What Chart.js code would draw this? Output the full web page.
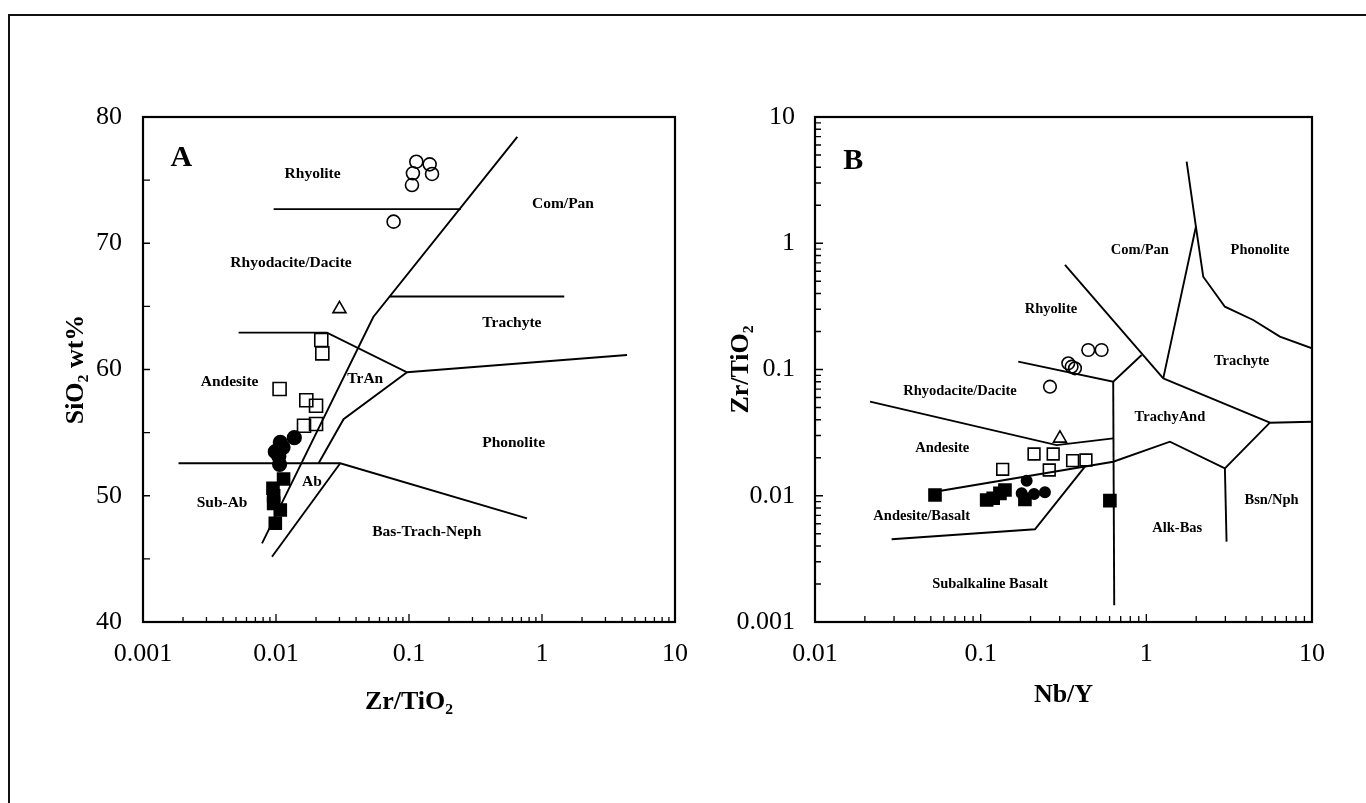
<!DOCTYPE html>
<html><head><meta charset="utf-8">
<script src="https://cdn.jsdelivr.net/npm/chart.js@4/dist/chart.umd.min.js"></script>
<style>
html,body{margin:0;padding:0;background:#fff;overflow:hidden;width:1366px;height:803px;}
#frame{position:absolute;left:8px;top:14px;width:1420px;height:900px;border:2px solid #111;box-sizing:border-box;}
#wa{position:absolute;left:0;top:0;width:720px;height:803px;}
#wb{position:absolute;left:720px;top:0;width:646px;height:803px;}
</style></head><body>
<div id="frame"></div>
<div id="wa"><canvas id="ca" width="720" height="803"></canvas></div>
<div id="wb"><canvas id="cb" width="646" height="803"></canvas></div>
<script>
// ---------- Panel A data (x = Zr/TiO2, y = SiO2 wt%) ----------
const aXTicks = [0.001, 0.01, 0.1, 1, 10];
const aXTickLabels = ['0.001', '0.01', '0.1', '1', '10'];
const aYTicks = [40, 50, 60, 70, 80];
const aYTickLabels = ['40', '50', '60', '70', '80'];

const aOpenCircles = [[0.1135,76.46],[0.143,76.25],[0.107,75.54],[0.149,75.49],[0.1053,74.61],[0.0766,71.71]];
const aOpenTriangles = [[0.030,64.8]];
const aOpenSquares = [[0.0219,62.34],[0.0223,61.28],[0.01064,58.46],[0.0169,57.56],[0.0200,57.13],[0.01624,55.55],[0.0200,55.68]];
const aFilledCircles = [[0.01077,54.23],[0.00988,53.49],[0.0113,53.84],[0.01064,52.49],[0.01373,54.6],[0.0105,53.1]];
const aFilledSquares = [[0.0114,51.33],[0.00949,50.59],[0.0096,50.0],[0.0096,49.4],[0.01077,48.87],[0.00988,47.82]];

const aRhyoliteLine = [[0.0096,72.7],[0.245,72.7]];
const aComPanLine = [[0.652,78.42],[0.0539,64.16],[0.00785,46.23]];
const aAndesiteLine = [[0.00523,62.92],[0.02417,62.92],[0.0966,59.78],[4.36,61.15]];
const aTrachyteLine = [[0.0716,65.78],[1.47,65.78]];
const aTrAnLine = [[0.0966,59.78],[0.0322,56.06],[0.0209,52.57]];
const aSubAbLine = [[0.00185,52.57],[0.0304,52.57],[0.771,48.21]];
const aAbLine = [[0.0304,52.57],[0.00933,45.17]];

const aRegionTexts = ['Rhyolite','Rhyodacite/Dacite','Com/Pan','Trachyte','Andesite','TrAn','Ab','Sub-Ab','Bas-Trach-Neph','Phonolite'];
const aRegionX = [0.01884,0.01297,1.438,0.594,0.00448,0.0469,0.01866,0.00393,0.136,0.6115];
const aRegionY = [75.49,68.41,73.11,63.66,58.99,59.25,51.07,49.40,47.15,54.2];
const aLetter = 'A';
const aLetterXY = [0.00194, 76.75];

// ---------- Panel B data (x = Nb/Y, y = Zr/TiO2) ----------
const bXTicks = [0.01, 0.1, 1, 10];
const bXTickLabels = ['0.01', '0.1', '1', '10'];
const bYTicks = [0.001, 0.01, 0.1, 1, 10];
const bYTickLabels = ['0.001', '0.01', '0.1', '1', '10'];

const bOpenCircles = [[0.262,0.0731],[0.338,0.1119],[0.354,0.1052],[0.371,0.1022],[0.446,0.1427],[0.537,0.1427]];
const bOpenTriangles = [[0.301,0.0285]];
const bOpenSquares = [[0.1358,0.0162],[0.210,0.0214],[0.274,0.0214],[0.2594,0.0160],[0.359,0.0190],[0.432,0.0192]];
const bFilledCircles = [[0.1895,0.01315],[0.2443,0.01065],[0.1768,0.01045],[0.210,0.01032]];
const bFilledSquares = [[0.053,0.01014],[0.1087,0.00925],[0.119,0.00955],[0.1307,0.01045],[0.1402,0.0111],[0.185,0.00937],[0.6026,0.00914]];

const bRhyoliteLine = [[0.1686,0.1153],[0.631,0.080],[0.937,0.1303]];
const bComPanLine = [[0.3228,0.6727],[1.265,0.0851]];
const bVerticalLine = [[0.631,0.080],[0.64,0.00136]];
const bRhyodaciteLine = [[0.0215,0.0556],[0.2875,0.0252],[0.631,0.0285]];
const bAndesiteLine = [[0.053,0.01076],[0.631,0.0186],[1.388,0.0268],[2.98,0.0165],[5.57,0.0379],[10,0.0386]];
const bBasaltLine = [[0.029,0.00452],[0.2127,0.00543],[0.426,0.0170]];
const bTrachyAndLine = [[1.265,0.0851],[5.57,0.0379]];
const bBsnNphLine = [[2.98,0.0165],[3.05,0.00433]];
const bComPanTrachyteLine = [[1.751,4.43],[1.992,1.352],[1.265,0.0851]];
const bPhonoliteLine = [[1.992,1.352],[2.205,0.543],[2.98,0.3144],[4.416,0.2466],[6.4,0.182],[10,0.147]];

const bRegionTexts = ['Com/Pan','Phonolite','Rhyolite','Trachyte','TrachyAnd','Bsn/Nph','Alk-Bas','Rhyodacite/Dacite','Andesite','Andesite/Basalt','Subalkaline Basalt'];
const bRegionX = [0.914,4.85,0.2657,3.76,1.388,5.70,1.536,0.075,0.0586,0.04406,0.1138];
const bRegionY = [0.884,0.884,0.2998,0.1153,0.0415,0.00914,0.00552,0.0667,0.02377,0.00691,0.0020];
const bLetter = 'B';
const bLetterXY = [0.01703, 4.43];

// ---------- helpers ----------
const FONT = '"Liberation Serif", "Times New Roman", serif';
const pts = arr => arr.map(([x, y]) => ({x, y}));
function markerDS(data, style, radius, filled) {
  return { data: pts(data), pointStyle: style, pointRadius: radius, pointHoverRadius: radius,
    pointBackgroundColor: filled ? '#000' : 'rgba(0,0,0,0)', pointBorderColor: '#000',
    pointBorderWidth: 1.6, showLine: false, order: 0 };
}
function lineDS(data) {
  return { data: pts(data), showLine: true, borderColor: '#000', borderWidth: 1.9,
    pointRadius: 0, pointHoverRadius: 0, fill: false, tension: 0, order: 1 };
}
function logMinor(scale, majorLen, minorLen) {
  const out = [];
  const k0 = Math.floor(Math.log10(scale.min) + 1e-9), k1 = Math.ceil(Math.log10(scale.max) - 1e-9);
  for (let k = k0; k <= k1; k++) for (let m = 1; m <= 9; m++) {
    const v = m * Math.pow(10, k);
    if (v > scale.min * 1.001 && v < scale.max * 0.999) out.push([v, m === 1 ? majorLen : minorLen]);
  }
  return out;
}
function linMinor(scale, step, len) {
  const out = [];
  for (let v = scale.min + step; v < scale.max - 1e-9; v += step) out.push([v, len]);
  return out;
}
function framePlugin(xMarks, yMarks) {
  return { id: 'frameTicks', afterDatasetsDraw(chart) {
    const {ctx, chartArea: a, scales} = chart;
    ctx.save();
    ctx.strokeStyle = '#000'; ctx.lineWidth = 1.3;
    ctx.beginPath();
    xMarks(scales.x).forEach(([v, len]) => { const p = scales.x.getPixelForValue(v); ctx.moveTo(p, a.bottom); ctx.lineTo(p, a.bottom - len); });
    yMarks(scales.y).forEach(([v, len]) => { const p = scales.y.getPixelForValue(v); ctx.moveTo(a.left, p); ctx.lineTo(a.left + len, p); });
    ctx.stroke();
    ctx.lineWidth = 2.2;
    ctx.strokeRect(a.left, a.top, a.right - a.left, a.bottom - a.top);
    ctx.restore();
  }};
}
function labelsPlugin(texts, xs, ys, fontPx, letter, letterXY) {
  return { id: 'regionLabels', afterDatasetsDraw(chart) {
    const {ctx, scales} = chart;
    ctx.save();
    ctx.fillStyle = '#000'; ctx.textAlign = 'center'; ctx.textBaseline = 'middle';
    ctx.font = `bold ${fontPx}px ${FONT}`;
    texts.forEach((t, i) => ctx.fillText(t, scales.x.getPixelForValue(xs[i]), scales.y.getPixelForValue(ys[i])));
    ctx.font = `bold 30px ${FONT}`;
    ctx.fillText(letter, scales.x.getPixelForValue(letterXY[0]), scales.y.getPixelForValue(letterXY[1]));
    ctx.restore();
  }};
}
function makeScales(p) {
  return {
    x: { type: 'logarithmic', position: 'bottom', min: p.xTicks[0], max: p.xTicks[p.xTicks.length - 1],
      grid: { display: false, drawTicks: false }, border: { display: false },
      afterBuildTicks: s => { s.ticks = p.xTicks.map(v => ({value: v})); },
      afterFit: s => { s.height = p.xH; },
      ticks: { color: '#000', font: { family: FONT, size: 26 }, padding: p.xPad, autoSkip: false, maxRotation: 0, minRotation: 0,
        callback: (v, i) => p.xLabels[i] },
      title: { display: true, text: p.xTitle, color: '#000', font: { family: FONT, size: 26, weight: 'bold' },
        padding: { top: 0, bottom: p.xTitlePad } } },
    y: { type: p.yType, position: 'left', min: p.yTicks[0], max: p.yTicks[p.yTicks.length - 1],
      grid: { display: false, drawTicks: false }, border: { display: false },
      afterBuildTicks: s => { s.ticks = p.yTicks.map(v => ({value: v})); },
      afterFit: s => { s.width = p.yW; },
      ticks: { color: '#000', font: { family: FONT, size: 26 }, padding: p.yPad, autoSkip: false,
        callback: (v, i) => p.yLabels[i] },
      title: { display: true, text: p.yTitle, color: '#000', font: { family: FONT, size: 26, weight: 'bold' },
        padding: { top: p.yTitlePad, bottom: 0 } } }
  };
}
function baseOptions(scales, padRight) {
  return { responsive: false, animation: false, devicePixelRatio: 1,
    layout: { padding: { left: 0, top: 117, right: padRight, bottom: 0 } },
    plugins: { legend: { display: false }, tooltip: { enabled: false } },
    scales };
}

// ---------- Panel A chart ----------
new Chart(document.getElementById('ca'), {
  type: 'scatter',
  data: { datasets: [
    markerDS(aOpenCircles, 'circle', 6.5, false),
    markerDS(aOpenTriangles, 'triangle', 7.5, false),
    markerDS(aOpenSquares, 'rect', 9.2, false),
    markerDS(aFilledCircles, 'circle', 6.8, true),
    markerDS(aFilledSquares, 'rect', 8.5, true),
    lineDS(aRhyoliteLine), lineDS(aComPanLine), lineDS(aAndesiteLine), lineDS(aTrachyteLine),
    lineDS(aTrAnLine), lineDS(aSubAbLine), lineDS(aAbLine)
  ]},
  options: baseOptions(makeScales({
    xTicks: aXTicks, xLabels: aXTickLabels, xTitle: 'Zr/TiO\u2082', xH: 181, xPad: 17, xTitlePad: 85,
    yType: 'linear', yTicks: aYTicks, yLabels: aYTickLabels, yTitle: 'SiO\u2082 wt%', yW: 143, yPad: 21, yTitlePad: 61
  }), 45),
  plugins: [
    framePlugin(s => logMinor(s, 8, 5), s => linMinor(s, 5, 7)),
    labelsPlugin(aRegionTexts, aRegionX, aRegionY, 15.5, aLetter, aLetterXY)
  ]
});

// ---------- Panel B chart ----------
new Chart(document.getElementById('cb'), {
  type: 'scatter',
  data: { datasets: [
    markerDS(bOpenCircles, 'circle', 6.3, false),
    markerDS(bOpenTriangles, 'triangle', 7.5, false),
    markerDS(bOpenSquares, 'rect', 8.3, false),
    markerDS(bFilledCircles, 'circle', 5.2, true),
    markerDS(bFilledSquares, 'rect', 8.5, true),
    lineDS(bRhyoliteLine), lineDS(bComPanLine), lineDS(bVerticalLine), lineDS(bRhyodaciteLine),
    lineDS(bAndesiteLine), lineDS(bBasaltLine), lineDS(bTrachyAndLine), lineDS(bBsnNphLine),
    lineDS(bComPanTrachyteLine), lineDS(bPhonoliteLine)
  ]},
  options: baseOptions(makeScales({
    xTicks: bXTicks, xLabels: bXTickLabels, xTitle: 'Nb/Y', xH: 181, xPad: 17, xTitlePad: 92,
    yType: 'logarithmic', yTicks: bYTicks, yLabels: bYTickLabels, yTitle: 'Zr/TiO\u2082', yW: 95, yPad: 20, yTitlePad: 6
  }), 54),
  plugins: [
    framePlugin(s => logMinor(s, 8, 6), s => logMinor(s, 8, 6)),
    labelsPlugin(bRegionTexts, bRegionX, bRegionY, 14.5, bLetter, bLetterXY)
  ]
});
</script>
</body></html>
